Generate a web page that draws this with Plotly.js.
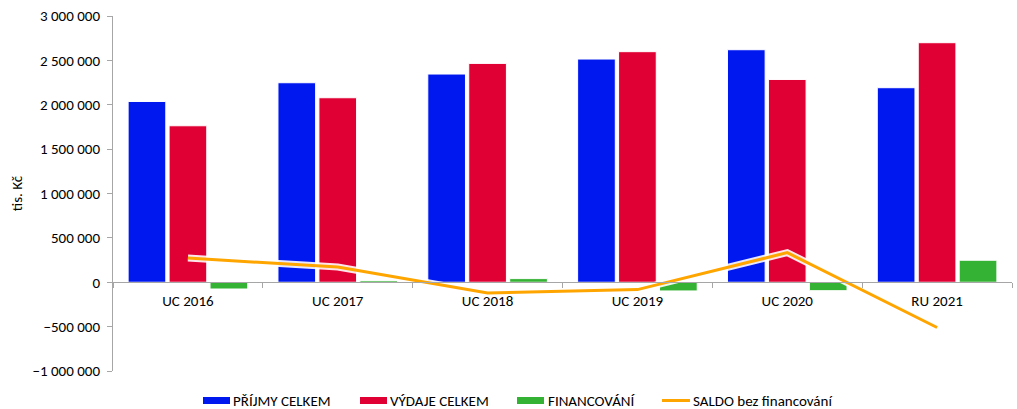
<!DOCTYPE html>
<html>
<head>
<meta charset="utf-8">
<script src="https://cdn.plot.ly/plotly-3.0.1.min.js"></script>
<style>html,body{margin:0;padding:0;background:#fff;}#chart{width:1017px;height:409px;}</style>
</head>
<body>
<div id="chart"></div>
<script>
const categories = ["UC 2016", "UC 2017", "UC 2018", "UC 2019", "UC 2020", "RU 2021"];
const prijmy = [2037000, 2248000, 2346000, 2515000, 2620000, 2192000];
const vydaje = [1763000, 2079000, 2466000, 2598000, 2285000, 2699000];
const financovani = [-76000, 18000, 41000, -98000, -95000, 248000];
const saldo = [272000, 172000, -122000, -83000, 334000, -510000];
const seriesNames = ["PŘÍJMY CELKEM", "VÝDAJE CELKEM", "FINANCOVÁNÍ", "SALDO bez financování"];
const seriesColors = ["#0018F0", "#E00034", "#33B233", "#FFA500"];
const yTitle = "tis. Kč";

const FONT = "Carlito, Calibri, Lato, 'Liberation Sans', sans-serif";
const FS = 15;
const barLine = {color: "#ffffff", width: 1};

const traces = [
  {type: "bar", x: categories, y: prijmy, name: seriesNames[0], marker: {color: seriesColors[0], line: barLine}},
  {type: "bar", x: categories, y: vydaje, name: seriesNames[1], marker: {color: seriesColors[1], line: barLine}},
  {type: "bar", x: categories, y: financovani, name: seriesNames[2], marker: {color: seriesColors[2], line: barLine}},
  {type: "scatter", mode: "lines", x: categories, y: saldo, hoverinfo: "skip",
   line: {color: "rgba(255,255,255,0.9)", width: 7}},
  {type: "scatter", mode: "lines", x: categories, y: saldo, name: seriesNames[3],
   line: {color: seriesColors[3], width: 3}}
];

// plot-area geometry (pixels) used to place the custom legend
const M = {l: 113, r: 5, t: 16, b: 38};
const W = 1017, H = 409;
const pw = W - M.l - M.r, ph = H - M.t - M.b;
const px = v => (v - M.l) / pw;
const py = v => (H - M.b - v) / ph;

// custom legend (Excel-like wide swatches)
const legendY = 400.5;
const legendItems = [
  {sx: 203, ex: 230, tx: 231, kind: "rect"},
  {sx: 360, ex: 387, tx: 388, kind: "rect"},
  {sx: 517, ex: 544, tx: 546, kind: "rect"},
  {sx: 662, ex: 690, tx: 691, kind: "line"}
];
const shapes = [], annotations = [];
legendItems.forEach((it, i) => {
  if (it.kind === "rect") {
    shapes.push({type: "rect", xref: "paper", yref: "paper",
      x0: px(it.sx), x1: px(it.ex), y0: py(legendY + 3.5), y1: py(legendY - 3.5),
      fillcolor: seriesColors[i], line: {width: 0}});
  } else {
    shapes.push({type: "line", xref: "paper", yref: "paper",
      x0: px(it.sx), x1: px(it.ex), y0: py(legendY), y1: py(legendY),
      line: {color: seriesColors[i], width: 3}});
  }
  annotations.push({xref: "paper", yref: "paper", x: px(it.tx), y: py(legendY),
    xanchor: "left", yanchor: "middle", showarrow: false, text: seriesNames[i],
    font: {family: FONT, size: FS, color: "#000"}});
});

const yMin = -1000000, yMax = 3000000;
const layout = {
  width: W, height: H,
  margin: M,
  paper_bgcolor: "#ffffff", plot_bgcolor: "#ffffff",
  font: {family: FONT, size: FS, color: "#000000"},
  separators: ", ",
  barmode: "group",
  bargap: 0.18,
  bargroupgap: 0.08,
  showlegend: false,
  shapes: shapes,
  annotations: annotations,
  xaxis: {
    type: "category",
    anchor: "free",
    position: (0 - yMin) / (yMax - yMin),
    showline: true, linecolor: "#A6A6A6", linewidth: 1,
    ticks: "outside", tickson: "boundaries", ticklen: 5, tickcolor: "#A6A6A6",
    ticklabelstandoff: 5,
    showgrid: false, zeroline: false,
    tickfont: {family: FONT, size: FS, color: "#000"},
    fixedrange: true, automargin: false
  },
  yaxis: {
    range: [yMin, yMax],
    dtick: 500000, tick0: 0,
    tickformat: ",d",
    showline: true, linecolor: "#A6A6A6", linewidth: 1,
    ticks: "outside", ticklen: 5, tickcolor: "#A6A6A6",
    ticklabelstandoff: 4,
    showgrid: false, zeroline: false,
    tickfont: {family: FONT, size: FS, color: "#000"},
    title: {text: yTitle, font: {family: FONT, size: FS, color: "#000"}, standoff: 6},
    fixedrange: true, automargin: false
  }
};

Plotly.newPlot("chart", traces, layout, {displayModeBar: false, staticPlot: true});
</script>
</body>
</html>
